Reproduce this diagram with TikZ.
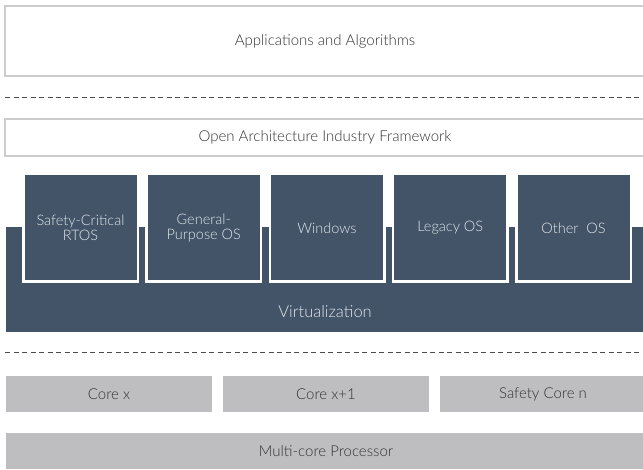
\documentclass[tikz,border=0pt]{standalone}
\usepackage{fontspec}
\setmainfont{Lato}[UprightFont=* Light]
\usepackage{tikz}
\usetikzlibrary{positioning}
\definecolor{slate}{HTML}{435468}
\definecolor{coregray}{HTML}{BEBEC0}
\definecolor{framegray}{HTML}{CCCCCC}
\definecolor{inktext}{HTML}{333333}
\definecolor{ostext}{HTML}{E2E7EC}
\tikzset{
  layerbox/.style={draw=framegray, line width=1.3pt, fill=white, text=inktext, font=\fontsize{15}{16}\selectfont},
  osbox/.style={draw=white, line width=2.5pt, fill=slate, text=ostext, align=center, minimum width=114.5pt, minimum height=107.5pt, font=\fontsize{14.5}{15.5}\selectfont},
  corebox/.style={fill=coregray, text=inktext, minimum height=36pt, font=\fontsize{15}{16}\selectfont},
  sepline/.style={dash pattern=on 5pt off 3.5pt, color=black!70, line width=1pt}
}
\begin{document}
\begin{tikzpicture}[x=1pt, y=-1pt, inner sep=0pt, outer sep=0pt]
\useasboundingbox (0,0) rectangle (643,470);
%%%%% Upper layers %%%%%
\node[layerbox, minimum width=640pt, minimum height=70pt] (apps) at (325,41) {Applications and Algorithms};
\coordinate (sepAl) at (5,97.5);
\coordinate (sepAr) at (643,97.5);
\draw[sepline] (sepAl)--(sepAr);
\node[layerbox, minimum width=640pt, minimum height=37pt] (frame) at (325,137.5) {Open Architecture Industry Framework};
%%%%% Virtualization %%%%%
\node[fill=slate, minimum width=640pt, minimum height=105pt] (virt) at (326,279.5) {};
\node[text=ostext, font=\fontsize{16.5}{18}\selectfont] (virtlab) at (325,312) {Virtualization};
\foreach \i/\t in {0/{Safety-Critical\\RTOS},1/{General-\\Purpose OS},2/Windows,3/Legacy OS,4/Other\ \ OS}{
\node[osbox] (os\i) at (80.5+123.25*\i,228) {\t};
}
\coordinate (sepBl) at (5,353);
\coordinate (sepBr) at (643,353);
\draw[sepline] (sepBl)--(sepBr);
%%%%% Hardware %%%%%
\node[corebox, minimum width=206pt] (corex) at (109,394) {Core x};
\node[corebox, minimum width=206pt] (corey) at (326,394) {Core x+1};
\node[corebox, minimum width=206pt] (coren) at (543,394) {Safety Core n};
\node[corebox, minimum width=640pt] (mcp) at (326,451) {Multi-core Processor};
\end{tikzpicture}
\end{document}
